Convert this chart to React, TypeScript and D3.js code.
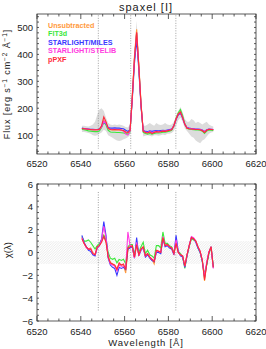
import React from 'react';
import * as d3 from 'd3';

// wavelength grid (Angstrom)
const waves = [
  6540.5, 6541.5, 6542.5, 6543.5, 6544.5, 6545.5, 6546.5, 6547.5, 6548.5, 6549.5,
  6550.5, 6551.5, 6552.5, 6553.5, 6554.5, 6555.5, 6556.5, 6557.5, 6558.5, 6559.5,
  6560.5, 6561.5, 6562.5, 6563.5, 6564.5, 6565.5, 6566.5, 6567.5, 6568.5, 6569.5,
  6570.5, 6571.5, 6572.5, 6573.5, 6574.5, 6575.5, 6576.5, 6577.5, 6578.5, 6579.5,
  6580.5, 6581.5, 6582.5, 6583.5, 6584.5, 6585.5, 6586.5, 6587.5, 6588.5, 6589.5,
  6590.5, 6591.5, 6592.5, 6593.5, 6594.5, 6595.5, 6596.5, 6597.5, 6598.5, 6599.5,
  6600.5,
];

// error envelope of the observed spectrum
const errUpper = [
  135, 135, 133, 132, 135, 140, 150, 175, 195, 200,
  190, 165, 145, 140, 138, 140, 138, 140, 138, 135,
  130, 128, 140, 250, 410, 525, 380, 240, 135, 135,
  140, 145, 140, 135, 145, 140, 138, 140, 145, 140,
  138, 140, 150, 170, 190, 205, 185, 160, 150, 150,
  160, 155, 145, 150, 145, 140, 145, 150, 140, 135,
  132,
];
const errLower = [
  112, 112, 110, 108, 105, 100, 98, 100, 105, 110,
  120, 115, 100, 95, 90, 85, 80, 78, 80, 85,
  88, 92, 100, 200, 350, 450, 310, 180, 95, 98,
  100, 98, 95, 100, 100, 98, 100, 102, 100, 105,
  105, 108, 115, 135, 155, 165, 150, 125, 115, 105,
  95, 90, 80, 75, 70, 80, 85, 95, 105, 110,
  112,
];

// flux per method
const fluxUnsub = [
  124, 123, 122, 121, 120, 120, 119, 120, 121, 132,
  155, 145, 124, 120, 119, 120, 119, 119, 118, 116,
  110, 108, 117, 245, 395, 493, 362, 218, 114, 110,
  109, 112, 108, 111, 113, 112, 113, 115, 114, 116,
  118, 121, 136, 162, 180, 188, 166, 140, 126, 124,
  123, 122, 121, 121, 120, 117, 112, 118, 121, 121,
  120,
];
const fluxFit3d = [
  122, 120, 118, 116, 115, 114, 113, 113, 115, 128,
  148, 138, 118, 112, 111, 111, 110, 110, 109, 108,
  106, 104, 112, 238, 380, 478, 352, 212, 110, 106,
  104, 106, 104, 106, 108, 108, 109, 111, 111, 113,
  115, 118, 134, 163, 183, 195, 172, 142, 125, 122,
  121, 120, 119, 119, 118, 115, 106, 115, 119, 118,
  117,
];
const fluxMiles = [
  126, 125, 124, 123, 122, 122, 121, 121, 123, 132,
  150, 142, 128, 126, 126, 127, 126, 126, 125, 124,
  118, 114, 120, 230, 365, 455, 340, 205, 118, 114,
  113, 116, 114, 116, 117, 116, 117, 118, 117, 119,
  121, 123, 135, 158, 175, 182, 163, 140, 128, 126,
  125, 124, 123, 123, 122, 119, 114, 120, 123, 122,
  121,
];
const fluxStelib = [
  125, 124, 123, 122, 121, 120, 120, 120, 121, 130,
  152, 144, 125, 122, 121, 122, 121, 121, 119, 115,
  104, 100, 114, 238, 385, 480, 352, 212, 115, 112,
  110, 113, 110, 112, 114, 113, 114, 116, 115, 117,
  119, 121, 135, 160, 178, 185, 165, 140, 127, 125,
  124, 123, 122, 122, 121, 118, 113, 119, 122, 122,
  121,
];
const fluxPpxf = [
  125, 124, 123, 122, 121, 120, 120, 120, 122, 135,
  168, 150, 126, 121, 120, 121, 120, 120, 119, 117,
  112, 110, 118, 240, 385, 482, 355, 215, 115, 110,
  108, 112, 106, 110, 113, 112, 113, 115, 114, 116,
  118, 120, 135, 160, 178, 186, 165, 140, 126, 124,
  123, 122, 121, 121, 120, 116, 110, 118, 122, 121,
  120,
];

// residuals chi(lambda) per method
const chiUnsub = [
  1.3, 0.8, 0.5, 0.3, 0.4, 0.0, -0.2, 0.5, 0.7, 1.0,
  1.5, 1.0, -0.3, -0.9, -1.0, -1.1, -1.4, -1.0, -1.1, -1.1,
  -1.8, 0.2, 0.5, 0.5, -0.4, 0.6, -0.2, 0.3, 0.5, -0.3,
  -0.1, -0.4, -0.6, -1.0, 0.2, 0.1, 0.0, 1.3, 0.6, 0.7,
  0.5, 0.4, -0.1, 0.8, 0.0, -0.2, -0.3, -1.2, -0.2, 0.6,
  1.3, 1.2, 1.0, 0.5, 0.1, -0.7, -2.5, -1.0, 0.0, 0.5,
  -1.3,
];
const chiFit3d = [
  1.4, 1.0, 1.0, 1.1, 0.9, 0.6, 0.3, 0.6, 0.8, 1.1,
  1.5, 1.1, 0.0, -0.5, -0.6, -0.5, -0.9, -0.6, -0.7, -0.6,
  -1.0, 0.5, 0.7, 0.7, -0.2, 0.8, 0.0, 0.5, 0.9, -0.1,
  0.2, -0.2, -0.3, -0.5, 0.6, 0.6, 0.4, 1.8, 0.8, 0.8,
  0.6, 0.5, 0.0, 0.9, 0.1, -0.1, -0.4, -1.4, -0.3, 0.5,
  1.2, 1.1, 1.0, 0.4, 0.0, -0.8, -1.9, -1.1, -0.1, 0.4,
  -1.2,
];
const chiMiles = [
  1.5, 0.9, 0.5, 0.2, 0.1, -0.2, -0.3, 0.4, 0.6, 1.2,
  2.7, 1.5, -0.5, -1.1, -1.3, -1.4, -2.0, -1.3, -1.4, -1.3,
  -1.5, 0.3, 0.4, 0.5, -0.5, 1.3, -0.3, 0.2, 0.4, -0.4,
  -0.2, -0.5, -0.7, -0.8, 0.0, 0.0, -0.1, 1.2, 0.5, 0.6,
  0.4, 0.3, -0.2, 1.5, 0.1, -0.3, -0.4, -1.3, -0.3, 0.6,
  1.3, 1.2, 0.9, 0.4, 0.0, -0.8, -2.2, -1.0, 0.0, 0.5,
  -1.3,
];
const chiStelib = [
  1.3, 0.8, 0.4, 0.3, 0.3, -0.1, -0.2, 0.4, 0.6, 1.1,
  2.3, 1.3, -0.4, -1.0, -1.1, -1.2, -1.6, -1.1, -1.2, -1.2,
  -1.4, 1.8, 0.6, 0.5, -0.5, 0.9, -0.3, 0.3, 0.4, -0.3,
  -0.1, -0.4, -0.6, -0.7, 0.1, 0.1, 0.0, 1.4, 0.6, 0.7,
  0.5, 0.4, -0.1, 1.1, 0.0, -0.2, -0.3, -1.2, -0.2, 0.6,
  1.4, 1.3, 1.0, 0.5, 0.1, -0.7, -2.1, -0.8, 0.1, 0.4,
  -1.4,
];
const chiPpxf = [
  1.2, 0.8, 0.5, 0.3, 0.3, -0.1, -0.2, 0.5, 0.6, 0.9,
  1.4, 0.9, -0.4, -0.9, -1.0, -1.1, -1.5, -0.9, -1.1, -1.0,
  -1.5, 0.4, 0.5, 0.6, -0.4, 0.7, -0.2, 0.3, 0.5, -0.3,
  -0.1, -0.4, -0.6, -0.8, 0.2, 0.1, 0.0, 1.3, 0.6, 0.7,
  0.5, 0.4, -0.1, 0.8, 0.0, -0.2, -0.3, -1.2, -0.2, 0.6,
  1.3, 1.2, 1.0, 0.5, 0.1, -0.7, -2.4, -1.0, 0.0, 0.5,
  -1.3,
];

const seriesNames = ['Unsubtracted', 'FIT3d', 'STARLIGHT/MILES', 'STARLIGHT/STELIB', 'pPXF'];
const seriesColors = ['#ff9a3c', '#3ce83c', '#3a3aff', '#ff3ce0', '#ff2a3a'];
const fluxSeries = [fluxUnsub, fluxFit3d, fluxMiles, fluxStelib, fluxPpxf];
const chiSeries = [chiUnsub, chiFit3d, chiMiles, chiStelib, chiPpxf];

// emission line markers: [NII] 6548, Halpha, [NII] 6583
const lineMarks = [6548.0, 6562.8, 6583.4];

const xTicks = [6520, 6540, 6560, 6580, 6600, 6620];
const fluxTicks = [100, 200, 300, 400, 500];
const chiTicks = [-6, -4, -2, 0, 2, 4, 6];

const W = 266;
const H = 349;
const left = 37;
const right = 256;
const font = '"Liberation Sans", Arial, sans-serif';
const axisColor = '#333';

type Pt = [number, number];

function Frame({
  x,
  y,
  minorX,
  minorY,
}: {
  x: d3.ScaleLinear<number, number>;
  y: d3.ScaleLinear<number, number>;
  minorX: number[];
  minorY: number[];
}) {
  const [x0, x1] = x.range();
  const [yb, yt] = y.range();
  const ticks: JSX.Element[] = [];
  minorX.forEach((v, i) => {
    const major = xTicks.includes(v);
    const len = major ? 5 : 2.5;
    ticks.push(<line key={'xb' + i} x1={x(v)} x2={x(v)} y1={yb} y2={yb - len} />);
    ticks.push(<line key={'xt' + i} x1={x(v)} x2={x(v)} y1={yt} y2={yt + len} />);
  });
  minorY.forEach((v, i) => {
    ticks.push(<line key={'yl' + i} x1={x0} x2={x0 + 2} y1={y(v)} y2={y(v)} />);
    ticks.push(<line key={'yr' + i} x1={x1} x2={x1 - 2} y1={y(v)} y2={y(v)} />);
  });
  return (
    <g stroke={axisColor} strokeWidth={0.8} fill="none">
      <rect x={x0} y={yt} width={x1 - x0} height={yb - yt} />
      {ticks}
    </g>
  );
}

export default function App() {
  const x = d3.scaleLinear().domain([6520, 6620]).range([left, right]);
  const yFlux = d3.scaleLinear().domain([30, 550]).range([154, 14]);
  const yChi = d3.scaleLinear().domain([-6, 6]).range([321, 184]);

  const line = (ys: number[], yScale: d3.ScaleLinear<number, number>) =>
    d3
      .line<Pt>()
      .x((d) => x(d[0]))
      .y((d) => yScale(d[1]))(waves.map((w, i) => [w, ys[i]] as Pt)) || '';

  const band =
    d3
      .area<number>()
      .x((_, i) => x(waves[i]))
      .y0((_, i) => yFlux(errLower[i]))
      .y1((_, i) => yFlux(errUpper[i]))(waves) || '';

  const minorX = d3.range(6520, 6621, 5);
  const minorFlux = d3.range(40, 551, 20);
  const minorChi = d3.range(-6, 6.01, 0.5);

  return (
    <svg
      width={W}
      height={H}
      style={{ position: 'absolute', left: 0, top: 0, background: '#fff' }}
      fontFamily={font}
    >
      <defs>
        <pattern id="hatch" width="2.5" height="2.5" patternUnits="userSpaceOnUse">
          <path d="M0,2.5 L2.5,0 M-1,1 L1,-1 M1.5,3.5 L3.5,1.5" stroke="#d6d6d6" strokeWidth={0.5} />
        </pattern>
        <clipPath id="clipTop">
          <rect x={left} y={14} width={right - left} height={140} />
        </clipPath>
        <clipPath id="clipBot">
          <rect x={left} y={184} width={right - left} height={137} />
        </clipPath>
      </defs>

      <text x={146} y={11} textAnchor="middle" fontSize={11} letterSpacing={1} fill="#222">
        spaxel [I]
      </text>

      {/* top panel */}
      <g clipPath="url(#clipTop)">
        <path d={band} fill="#dcdcdc" stroke="none" />
        {lineMarks.map((w) => (
          <line
            key={w}
            x1={x(w)}
            x2={x(w)}
            y1={yFlux(545)}
            y2={yFlux(50)}
            stroke="#888"
            strokeWidth={0.8}
            strokeDasharray="1 1.5"
          />
        ))}
        {fluxSeries.map((s, i) => (
          <path key={i} d={line(s, yFlux)} fill="none" stroke={seriesColors[i]} strokeWidth={1.1} />
        ))}
      </g>
      <Frame x={x} y={yFlux} minorX={minorX} minorY={minorFlux} />
      {fluxTicks.map((v) => (
        <text key={v} x={33} y={yFlux(v) + 3.5} textAnchor="end" fontSize={9.5} fill="#222">
          {v}
        </text>
      ))}
      {xTicks.map((v) => (
        <text key={v} x={x(v)} y={167} textAnchor="middle" fontSize={9.5} fill="#222">
          {v}
        </text>
      ))}
      {seriesNames.map((n, i) => (
        <text
          key={n}
          x={48}
          y={28 + i * 8.4}
          fontSize={7.2}
          fontWeight={600}
          fill={seriesColors[i]}
        >
          {n}
        </text>
      ))}
      <text
        transform={`translate(10,${yFlux(290)}) rotate(-90)`}
        textAnchor="middle"
        fontSize={9}
        letterSpacing={0.9}
        fill="#222"
      >
        Flux [erg s<tspan dy={-3} fontSize={6.5}>−1</tspan>
        <tspan dy={3}> cm</tspan>
        <tspan dy={-3} fontSize={6.5}>−2</tspan>
        <tspan dy={3}> Å</tspan>
        <tspan dy={-3} fontSize={6.5}>−1</tspan>
        <tspan dy={3}>]</tspan>
      </text>

      {/* bottom panel */}
      <g clipPath="url(#clipBot)">
        <rect
          x={left}
          y={yChi(1)}
          width={right - left}
          height={yChi(-1) - yChi(1)}
          fill="url(#hatch)"
        />
        {lineMarks.map((w) => (
          <line
            key={w}
            x1={x(w)}
            x2={x(w)}
            y1={yChi(5.3)}
            y2={yChi(-5.1)}
            stroke="#888"
            strokeWidth={0.8}
            strokeDasharray="1 1.5"
          />
        ))}
        {chiSeries.map((s, i) => (
          <path key={i} d={line(s, yChi)} fill="none" stroke={seriesColors[i]} strokeWidth={1.1} />
        ))}
      </g>
      <Frame x={x} y={yChi} minorX={minorX} minorY={minorChi} />
      {chiTicks.map((v) => (
        <text key={v} x={33} y={yChi(v) + 3.5} textAnchor="end" fontSize={9.5} fill="#222">
          {v < 0 ? '−' + Math.abs(v) : v}
        </text>
      ))}
      {xTicks.map((v) => (
        <text key={v} x={x(v)} y={335} textAnchor="middle" fontSize={9.5} fill="#222">
          {v}
        </text>
      ))}
      <text x={146} y={346} textAnchor="middle" fontSize={9.5} letterSpacing={0.8} fill="#222">
        Wavelength [Å]
      </text>
      <text
        transform={`translate(11,${yChi(0.2)}) rotate(-90)`}
        textAnchor="middle"
        fontSize={9.5}
        fill="#222"
      >
        χ(λ)
      </text>
    </svg>
  );
}
